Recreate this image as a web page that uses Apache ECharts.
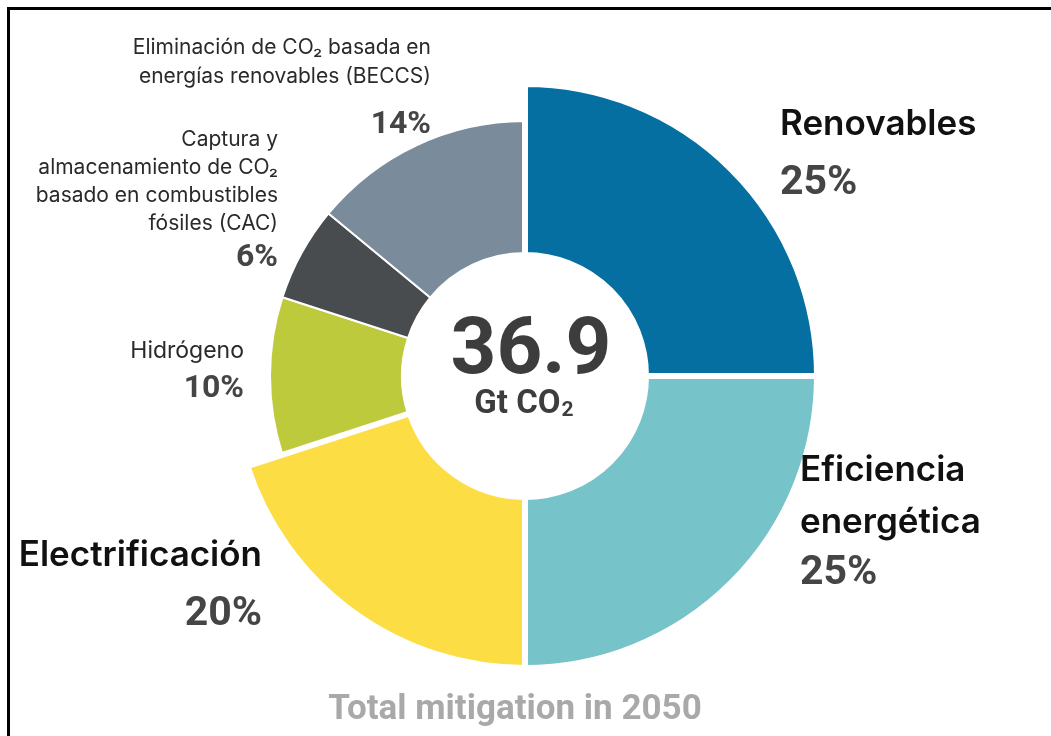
<!DOCTYPE html>
<html>
<head>
<meta charset="utf-8">
<script src="https://cdn.jsdelivr.net/npm/echarts@6/dist/echarts.min.js"></script>
<style>
html,body{margin:0;padding:0;background:#fff;}
#chart{width:1051px;height:736px;}
</style>
</head>
<body>
<div id="chart"></div>
<script>
// ---- data ----
const categories = ['Renovables', 'Eficiencia energética', 'Electrificación', 'Hidrógeno',
  'Captura y almacenamiento de CO₂ basado en combustibles fósiles (CAC)',
  'Eliminación de CO₂ basada en energías renovables (BECCS)'];
const labelLines = [
  ['Renovables'],
  ['Eficiencia', 'energética'],
  ['Electrificación'],
  ['Hidrógeno'],
  ['Captura y', 'almacenamiento de CO₂', 'basado en combustibles', 'fósiles (CAC)'],
  ['Eliminación de CO₂ basada en', 'energías renovables (BECCS)']
];
const shares = [25, 25, 20, 10, 6, 14];
const totalValue = '36.9';
const totalUnit = 'Gt CO';
const footer = 'Total mitigation in 2050';

// ---- styling ----
const colors = ['#046fa0', '#77c3ca', '#fddd44', '#bdca3b', '#494c4f', '#7a8b9b'];
const major = [true, true, true, false, false, false];
const CX = 525, CY = 376;
const labelLayoutCfg = [
  {x: 780, y: 98,  align: 'left',  nSize: 35, nW: 600, nLH: 52, pSize: 41, pLH: 68},
  {x: 800, y: 444, align: 'left',  nSize: 35, nW: 600, nLH: 52, pSize: 41, pLH: 52},
  {x: 262, y: 529, align: 'right', nSize: 35, nW: 600, nLH: 52, pSize: 41, pLH: 68},
  {x: 244, y: 338, align: 'right', nSize: 23, nW: 400, nLH: 26, pSize: 32, pLH: 50},
  {x: 278, y: 126, align: 'right', nSize: 21, nW: 400, nLH: 28, pSize: 32, pLH: 40},
  {x: 431, y: 33,  align: 'right', nSize: 21, nW: 400, nLH: 29, pSize: 32, pLH: 67}
];

function makeData(isMajorSeries) {
  return categories.map((name, i) => {
    const visible = major[i] === isMajorSeries;
    const L = labelLayoutCfg[i];
    return {
      name: name,
      value: shares[i],
      itemStyle: visible
        ? {color: colors[i], borderColor: '#ffffff', borderWidth: isMajorSeries ? 6 : 2}
        : {color: 'rgba(0,0,0,0)', borderWidth: 0},
      label: visible ? {
        show: true,
        align: L.align,
        formatter: () => labelLines[i].map(t => '{n|' + t + '}').join('\n') + '\n{p|' + shares[i] + '%}',
        rich: {
          n: {fontFamily: 'Inter', fontSize: L.nSize, fontWeight: L.nW, color: isMajorSeries ? '#111111' : '#2a2a2a',
              lineHeight: L.nLH, align: L.align},
          p: {fontFamily: 'Roboto', fontSize: L.pSize, fontWeight: 'bold', color: '#454545',
              lineHeight: L.pLH, align: L.align}
        }
      } : {show: false},
      emphasis: {disabled: true}
    };
  });
}

function layoutFn(params) {
  const L = labelLayoutCfg[params.dataIndex];
  return {x: L.x, y: L.y, align: L.align, verticalAlign: 'top'};
}

const chart = echarts.init(document.getElementById('chart'), null, {renderer: 'canvas'});
chart.setOption({
  animation: false,
  backgroundColor: '#ffffff',
  series: [
    {
      type: 'pie', name: 'minor', center: [CX, CY], radius: [123, 255],
      startAngle: 90, clockwise: true, avoidLabelOverlap: false,
      labelLine: {show: false}, label: {position: 'outside'},
      labelLayout: layoutFn, silent: true,
      data: makeData(false)
    },
    {
      type: 'pie', name: 'major', center: [CX, CY], radius: [121, 292],
      startAngle: 90, clockwise: true, avoidLabelOverlap: false,
      labelLine: {show: false}, label: {position: 'outside'},
      labelLayout: layoutFn, silent: true,
      data: makeData(true)
    }
  ],
  graphic: [
    {type: 'rect', shape: {x: 7, y: 7, width: 1044, height: 3}, style: {fill: '#000'}},
    {type: 'rect', shape: {x: 7, y: 7, width: 3, height: 729}, style: {fill: '#000'}},
    {type: 'text', x: 531, y: 353, style: {text: totalValue, font: 'bold 80px Roboto', fill: '#3d3d3d',
      align: 'center', verticalAlign: 'middle'}},
    {type: 'text', x: 524, y: 405, style: {
      text: '{m|' + totalUnit + '}{s|2}',
      align: 'center', verticalAlign: 'middle',
      rich: {
        m: {fontFamily: 'Roboto', fontSize: 33, fontWeight: 'bold', fill: '#3d3d3d', color: '#3d3d3d', lineHeight: 33, verticalAlign: 'top'},
        s: {fontFamily: 'Roboto', fontSize: 21, fontWeight: 'bold', fill: '#3d3d3d', color: '#3d3d3d', lineHeight: 21, padding: [15, 0, 0, 1], verticalAlign: 'bottom'}
      }
    }},
    {type: 'text', x: 515, y: 710, style: {text: footer, font: 'bold 35px Roboto', fill: '#a9a9a9',
      align: 'center', verticalAlign: 'middle'}}
  ]
});
</script>
</body>
</html>
